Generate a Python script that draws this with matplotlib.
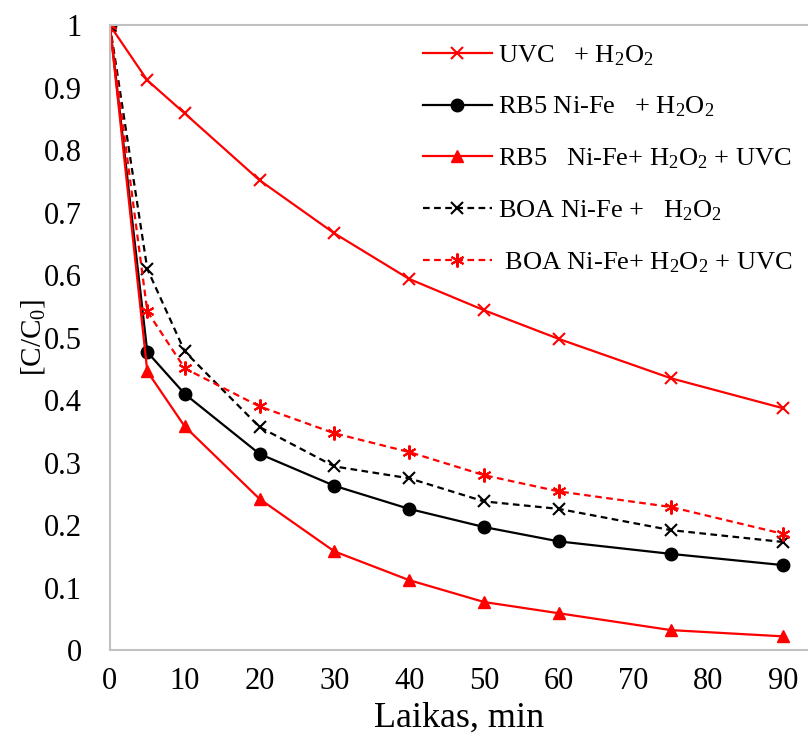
import matplotlib
matplotlib.use("Agg")
import matplotlib.pyplot as plt

plt.rcParams['font.family'] = ['Liberation Serif', 'DejaVu Serif']
plt.rcParams['mathtext.fontset'] = 'custom'
plt.rcParams['mathtext.rm'] = 'Liberation Serif'
plt.rcParams['mathtext.it'] = 'Liberation Serif:italic'

# time, min
time = [0, 5, 10, 20, 30, 40, 50, 60, 75, 90]

# C/C0 values
uvc_h2o2 = [1.0, 0.912, 0.859, 0.752, 0.667, 0.594, 0.544, 0.498, 0.435, 0.387]
rb5_h2o2 = [1.0, 0.477, 0.410, 0.314, 0.263, 0.226, 0.197, 0.174, 0.154, 0.136]
rb5_h2o2_uvc = [1.0, 0.446, 0.358, 0.242, 0.158, 0.112, 0.077, 0.059, 0.032, 0.022]
boa_h2o2 = [1.0, 0.610, 0.478, 0.357, 0.294, 0.275, 0.238, 0.226, 0.192, 0.173]
boa_h2o2_uvc = [1.0, 0.542, 0.451, 0.390, 0.347, 0.317, 0.280, 0.254, 0.229, 0.186]

labels = [
    'UVC   + H$_2$O$_2$',
    'RB5 Ni-Fe   + H$_2$O$_2$',
    'RB5   Ni-Fe+ H$_2$O$_2$ + UVC',
    'BOA Ni-Fe +   H$_2$O$_2$',
    ' BOA Ni-Fe+ H$_2$O$_2$ + UVC',
]

fig = plt.figure(figsize=(8.08, 7.43), dpi=100)
ax = fig.add_axes([0.136, 0.125, 0.864, 0.841])

ax.plot(time, uvc_h2o2, color='red', lw=1.6, marker='x', ms=9, mew=1.5, label=labels[0])
ax.plot(time, rb5_h2o2, color='black', lw=1.6, marker='o', ms=9, label=labels[1])
ax.plot(time, rb5_h2o2_uvc, color='red', lw=1.6, marker='^', ms=9, label=labels[2])
ax.plot(time, boa_h2o2, color='black', lw=1.6, ls=(0, (3, 2)), marker='x', ms=9, mew=1.5,
        label=labels[3])
ax.plot(time, boa_h2o2_uvc, color='red', lw=1.6, ls=(0, (3, 2)), marker=(6, 2, 0), ms=10,
        mew=1.5, label=labels[4])

ax.set_xlim(0, 93.3)
ax.set_ylim(0, 1)
ax.set_xticks(range(0, 91, 10))
ax.set_yticks([i / 10 for i in range(11)])
ax.set_yticklabels(['0', '0.1', '0.2', '0.3', '0.4', '0.5', '0.6', '0.7', '0.8', '0.9', '1'])
ax.tick_params(axis='both', length=0, labelsize=22)
ax.tick_params(axis='y', pad=20)
ax.tick_params(axis='x', pad=12)

for side in ['left', 'top', 'bottom']:
    ax.spines[side].set_color('#c0c0c0')
    ax.spines[side].set_linewidth(1.5)
ax.spines['right'].set_visible(False)

ax.set_xlabel('Laikas, min', fontsize=26, labelpad=4)
ax.set_ylabel('[C/C$_0$]', fontsize=21, labelpad=-2)

ax.legend(loc='upper left', bbox_to_anchor=(423 / 808, 1 - 43 / 743),
          bbox_transform=fig.transFigure, frameon=False, fontsize=19, borderpad=0,
          borderaxespad=0, handlelength=2.6, labelspacing=1.03, handletextpad=0.25)

fig.savefig('out.png', dpi=100)
